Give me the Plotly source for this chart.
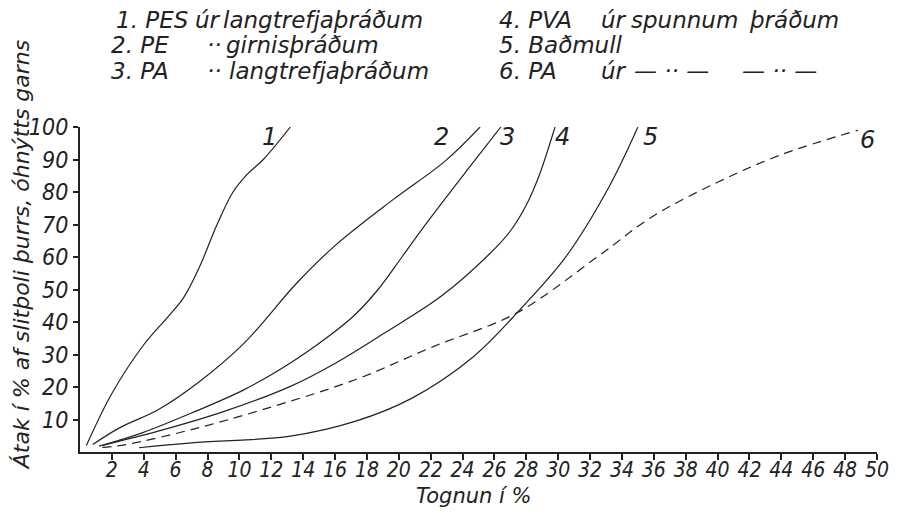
import plotly.graph_objects as go

# ---- data ----
x1 = [0.4, 2.0, 4.0, 5.5, 6.5, 7.5, 8.6, 9.6, 10.5, 11.5, 13.2]
y1 = [2, 18, 33, 41.5, 47.5, 57, 70, 80, 85.5, 90, 100]

x2 = [0.8, 2.5, 4.9, 7.4, 10.3, 13.6, 16.0, 19.6, 22.9, 25.1]
y2 = [2.3, 7.5, 13, 21.3, 33.5, 52, 63.5, 77.5, 89.5, 100]

x3 = [1.2, 3.9, 7.0, 10.3, 13.2, 15.6, 17.2, 18.7, 20.2, 21.6, 24.3, 26.4]
y3 = [1.8, 5.9, 12, 19.2, 27.4, 35.6, 42, 50, 60, 69.5, 86.8, 100]

x4 = [1.4, 4.9, 9.05, 13.2, 16.05, 19.1, 22.65, 25.7, 27.0, 28.0, 28.8, 29.8]
y4 = [2, 6.4, 12.5, 20.2, 27.4, 36.6, 47.9, 61, 68, 76, 85, 100]

x5 = [3.7, 7.0, 13.2, 17.3, 20.8, 24.7, 27.6, 30.5, 33.2, 35.0]
y5 = [1.3, 2.8, 4.9, 9.5, 16.5, 29.4, 43.8, 60.2, 81.7, 100]

x6 = [1.4, 2.9, 7.0, 11.5, 17.3, 22.2, 27.4, 32.5, 35.9, 40, 44, 48.8]
y6 = [1.4, 2.3, 6.9, 13.1, 22.3, 32.5, 42.8, 60.2, 72.4, 83, 91.5, 99]

curve_labels = ["1", "2", "3", "4", "5", "6"]
label_x = [11.9, 22.7, 26.8, 30.3, 35.8, 49.4]
label_y = [97, 97, 97, 97, 97, 96]

x_ticks = list(range(2, 51, 2))
y_ticks = list(range(10, 101, 10))

x_title = "Tognun í %"
y_title = "Átak í % af slitþoli þurrs, óhnýtts garns"

FONT_W = "DejaVu Sans, sans-serif"
FONT_N = "DejaVu Sans Condensed, DejaVu Sans, sans-serif"
INK = "#222222"

fig = go.Figure()
series = [(x1, y1, "solid"), (x2, y2, "solid"), (x3, y3, "solid"),
          (x4, y4, "solid"), (x5, y5, "solid"), (x6, y6, "9px,6px")]
for xs, ys, dash in series:
    fig.add_trace(go.Scatter(x=xs, y=ys, mode="lines",
                             line=dict(color=INK, width=1.2, dash=dash, shape="spline", smoothing=1.0),
                             showlegend=False, hoverinfo="skip"))

for t, lx, ly in zip(curve_labels, label_x, label_y):
    fig.add_annotation(x=lx, y=ly, text=t, showarrow=False, xref="x", yref="y",
                       font=dict(family=FONT_W, size=24, color=INK, style="italic"))

# legend text block (pixel -> paper helper)
L, R, T, B = 80.4, 889.0, 127.0, 452.5
def pp(px, py):
    return (px - L) / (R - L), (B - py) / (B - T)

legend_pieces = [
    (115, 20, "1. PES"), (195, 20, "úr"), (223, 20, "langtrefjaþráðum"),
    (110, 45, "2. PE"), (207, 45, "··"), (227, 45, "girnisþráðum"),
    (110, 71, "3. PA"), (207, 71, "··"), (230, 71, "langtrefjaþráðum"),
    (503, 20, "4. PVA"), (607, 20, "úr"), (637, 20, "spunnum"), (757, 20, "þráðum"),
    (503, 45, "5. Baðmull"),
    (503, 71, "6. PA"), (607, 71, "úr"), (640, 71, "— ·· —"), (750, 71, "— ·· —"),
]
for px, py, t in legend_pieces:
    ax, ay = pp(px, py)
    fig.add_annotation(x=ax, y=ay, xref="paper", yref="paper", text=t, showarrow=False,
                       xanchor="left", yanchor="middle",
                       font=dict(family=FONT_W, size=23, color=INK, style="italic"))

ax, ay = pp(480, 497)
fig.add_annotation(x=ax, y=ay, xref="paper", yref="paper", text=x_title, showarrow=False,
                   xanchor="center", yanchor="middle",
                   font=dict(family=FONT_W, size=21, color=INK, style="italic"))
ax, ay = pp(21, 255)
fig.add_annotation(x=ax, y=ay, xref="paper", yref="paper", text=y_title, showarrow=False,
                   textangle=-90, xanchor="center", yanchor="middle",
                   font=dict(family=FONT_W, size=22, color=INK, style="italic"))

fig.update_layout(
    width=901, height=518,
    margin=dict(l=80, r=12, t=127, b=66),
    paper_bgcolor="white", plot_bgcolor="white",
    xaxis=dict(range=[0, 50], tickvals=x_ticks, ticktext=[str(v) for v in x_ticks],
               showgrid=False, zeroline=False, showline=True, linecolor=INK, linewidth=2,
               ticks="outside", ticklen=6, tickwidth=1.5, tickcolor=INK,
               ticklabeloverflow="allow", ticklabelstandoff=-8,
               tickfont=dict(family=FONT_N, size=21, color=INK, style="italic")),
    yaxis=dict(range=[0, 100], tickvals=y_ticks, ticktext=[str(v) for v in y_ticks],
               showgrid=False, zeroline=False, showline=True, linecolor=INK, linewidth=2,
               ticks="outside", ticklen=5, tickwidth=1.5, tickcolor=INK,
               ticklabeloverflow="allow",
               tickfont=dict(family=FONT_N, size=23, color=INK, style="italic")),
)

fig.write_html("out.html")
